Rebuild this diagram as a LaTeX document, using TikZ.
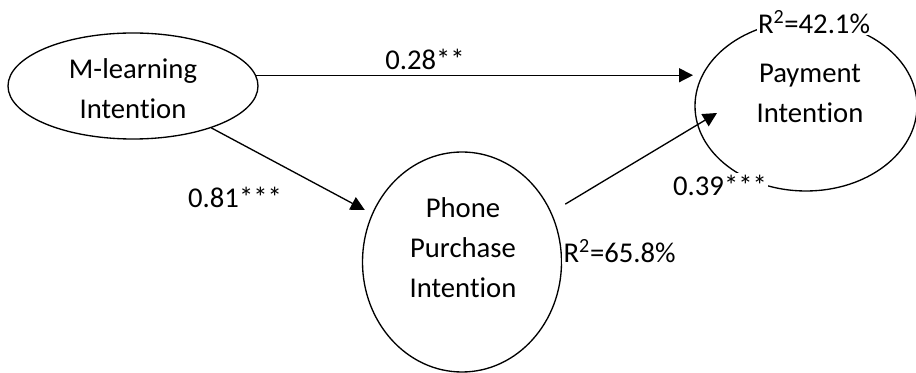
\documentclass[tikz,border=0pt]{standalone}
\usepackage{fontspec}
\setmainfont[Ligatures=NoCommon]{Carlito}
\usetikzlibrary{shapes.geometric,arrows.meta}
\newcommand{\Rsq}[1]{R\textsuperscript{2}=#1\%}

\begin{document}
\begin{tikzpicture}[x=0.75pt,y=-0.75pt,
  font=\fontsize{21.5}{30}\selectfont,
  latent/.style={draw,ellipse,line width=1pt,inner sep=0pt},
  arr/.style={-{Triangle[length=10.5pt,width=10.5pt]},line width=1pt},
  coef/.style={inner sep=1pt,fill=white}]
\useasboundingbox (0,0) rectangle (916,373);

% constructs
\node[latent,minimum width=187.5pt,minimum height=79.5pt] (ml) at (133,86) {};
\node[latent,minimum width=149.25pt,minimum height=165pt] (phone) at (462,262) {};
\node[latent,minimum width=166.5pt,minimum height=127.5pt] (pay) at (806,106) {};
\node[align=center] (ml-t) at (133,89) {M-learning\\Intention};
\node[align=center] (phone-t) at (463,248) {Phone\\Purchase\\Intention};
\node[align=center] (pay-t) at (810,93) {Payment\\Intention};
\coordinate (pay-in) at (717,113);

% paths
\draw[arr,shorten >=1pt] (ml.5) -- (ml.5 -| pay.west);
\draw[arr,shorten >=6pt] (ml) -- (phone);
\draw[arr,shorten <=12pt] (phone.29) -- (pay-in);

% coefficients
\node[coef] (c-pay) at (425,59) {0.28**};
\node[coef] (c-phone) at (235,197) {0.81***};
\node[coef] (c-pp) at (720,185) {0.39***};
\node[coef] (r-pay) at (814,22) {\Rsq{42.1}};
\node[coef,anchor=west] (r-phone) at (562,251) {\Rsq{65.8}};
\end{tikzpicture}
\end{document}
